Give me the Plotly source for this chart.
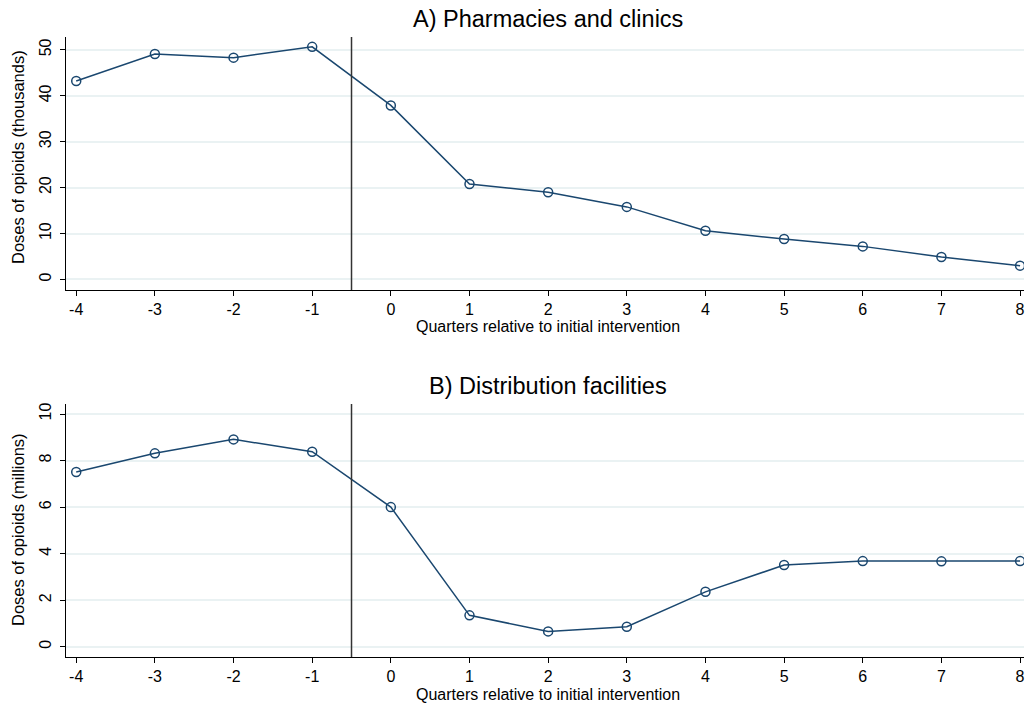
import plotly.graph_objects as go

quarters = [-4, -3, -2, -1, 0, 1, 2, 3, 4, 5, 6, 7, 8]
pharm_doses = [43.2, 49.1, 48.3, 50.65, 37.9, 20.8, 19.0, 15.8, 10.6, 8.8, 7.2, 4.9, 3.0]
dist_doses = [7.51, 8.31, 8.91, 8.38, 6.0, 1.35, 0.66, 0.86, 2.36, 3.51, 3.68, 3.67, 3.68]
x_ticks = quarters
x_ticktext = [str(q) for q in quarters]
y_ticks_top = [0, 10, 20, 30, 40, 50]
y_ticks_bot = [0, 2, 4, 6, 8, 10]
intervention_x = -0.5

NAVY = "#1a476f"
GRID = "#eaf2f3"
FONT = "Liberation Sans, Arial, sans-serif"

fig = go.Figure()
fig.add_trace(go.Scatter(x=quarters, y=pharm_doses, mode="lines+markers", xaxis="x", yaxis="y",
                         line=dict(color=NAVY, width=1.5),
                         marker=dict(symbol="circle-open", size=9, color=NAVY, line=dict(width=1.5)),
                         showlegend=False))
fig.add_trace(go.Scatter(x=quarters, y=dist_doses, mode="lines+markers", xaxis="x2", yaxis="y2",
                         line=dict(color=NAVY, width=1.5),
                         marker=dict(symbol="circle-open", size=9, color=NAVY, line=dict(width=1.5)),
                         showlegend=False))

xdom = [66 / 1026, 1024 / 1026]
top_dom = [1 - 290 / 706, 1 - 37 / 706]
bot_dom = [1 - 657 / 706, 1 - 404 / 706]

xaxis_common = dict(domain=xdom, range=[-4.13, 8.05], tickvals=x_ticks, ticktext=x_ticktext,
                    showline=True, linecolor="black", linewidth=1, ticks="outside", ticklen=5,
                    tickcolor="black", showgrid=False, zeroline=False, ticklabelstandoff=0,
                    tickfont=dict(size=16, color="black", family=FONT))
yaxis_common = dict(showline=True, linecolor="black", linewidth=1, ticks="outside", ticklen=5,
                    tickcolor="black", showgrid=True, gridcolor=GRID, gridwidth=1.5, zeroline=False,
                    tickangle=-90, ticklabelstandoff=3, tickfont=dict(size=16, color="black", family=FONT))

fig.update_layout(
    width=1026, height=706, margin=dict(l=0, r=0, t=0, b=0),
    paper_bgcolor="white", plot_bgcolor="white",
    font=dict(family=FONT, color="black"),
    xaxis=dict(anchor="y", **xaxis_common),
    yaxis=dict(domain=top_dom, range=[-2.3, 52.8], tickvals=y_ticks_top, anchor="x", **yaxis_common),
    xaxis2=dict(anchor="y2", **xaxis_common),
    yaxis2=dict(domain=bot_dom, range=[-0.44, 10.43], tickvals=y_ticks_bot, anchor="x2", **yaxis_common),
)

for xr, yr in [("x", "y domain"), ("x2", "y2 domain")]:
    fig.add_shape(type="line", xref=xr, yref=yr, x0=intervention_x, x1=intervention_x, y0=0, y1=1,
                  line=dict(color="#333333", width=1.5))

ann = [
    dict(text="A) Pharmacies and clinics", x=548, y=19, size=23.5),
    dict(text="B) Distribution facilities", x=548, y=386, size=23.5),
    dict(text="Quarters relative to initial intervention", x=548, y=326, size=16),
    dict(text="Quarters relative to initial intervention", x=548, y=694, size=16),
]
for a in ann:
    fig.add_annotation(text=a["text"], x=a["x"] / 1026, y=1 - a["y"] / 706, xref="paper", yref="paper",
                       showarrow=False, xanchor="center", yanchor="middle",
                       font=dict(size=a["size"], color="black", family=FONT))
for txt, yc in [("Doses of opioids (thousands)", 157), ("Doses of opioids (millions)", 530)]:
    fig.add_annotation(text=txt, x=18 / 1026, y=1 - yc / 706, xref="paper", yref="paper",
                       showarrow=False, textangle=-90, xanchor="center", yanchor="middle",
                       font=dict(size=16.5, color="black", family=FONT))

fig.write_html("out.html")
